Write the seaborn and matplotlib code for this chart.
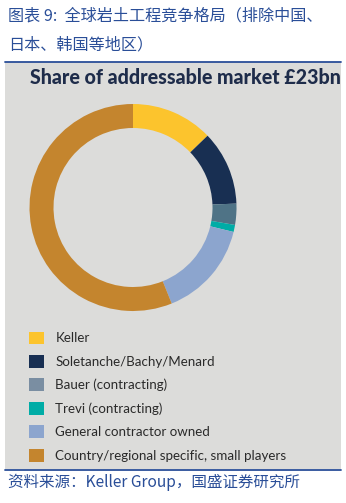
import matplotlib
matplotlib.use("Agg")
import matplotlib.pyplot as plt
import seaborn as sns
from matplotlib.patches import Rectangle, Patch
from matplotlib.lines import Line2D

# ---- data ----
categories = ["Keller", "Soletanche/Bachy/Menard", "Bauer (contracting)",
              "Trevi (contracting)", "General contractor owned",
              "Country/regional specific, small players"]
shares = [12.8, 11.6, 3.3, 1.1, 15.1, 56.1]
wedge_colors = ["#FCC42D", "#182F52", "#4F7386", "#00ACA6", "#8CA5CE", "#C4852E"]
legend_colors = ["#FCC42D", "#182F52", "#7A8EA2", "#00ACA6", "#8CA5CE", "#C4852E"]
title_cn_1 = "图表 9:  全球岩土工程竞争格局（排除中国、"
title_cn_2 = "日本、韩国等地区）"
chart_title = "Share of addressable market £23bn"
source_cn = "资料来源：Keller Group，国盛证券研究所"

sns.set_style("white")
plt.rcParams['font.family'] = ['DejaVu Sans']

W, H = 346, 503
fig = plt.figure(figsize=(W / 100, H / 100), dpi=100)
fig.patch.set_facecolor("white")

def fx(px): return px / W
def fy(py): return 1 - py / H

bg = "#DCDCDA"
blue = "#2A4E98"
# grey panel (behind everything)
fig.patches.append(Rectangle((fx(5), fy(469)), fx(341) - fx(5), fy(62) - fy(469),
                             transform=fig.transFigure, facecolor=bg, edgecolor="none",
                             zorder=-5))
fig.lines.append(Line2D([fx(5), fx(341)], [fy(61.5), fy(61.5)], transform=fig.transFigure,
                        color=blue, lw=1.3))
fig.lines.append(Line2D([fx(5), fx(341)], [fy(469.5), fy(469.5)], transform=fig.transFigure,
                        color=blue, lw=1.3))

cjk = ['Noto Sans CJK SC', 'DejaVu Sans']
fig.text(fx(8), fy(16), title_cn_1, family=cjk, fontsize=11.6, color=blue, style='italic',
         va='center', ha='left')
fig.text(fx(8), fy(45), title_cn_2, family=cjk, fontsize=11.6, color=blue, style='italic',
         va='center', ha='left')
fig.text(fx(8), fy(482), source_cn, family=cjk, fontsize=11.2, color=blue, style='italic',
         va='center', ha='left')

fig.text(fx(30), fy(77.5), chart_title, family=['Lato', 'DejaVu Sans'], fontsize=14.1,
         fontweight='black', color="#1E2C4A", va='center', ha='left')

# donut
cx, cy, r = 133, 207.5, 103.5
ax = fig.add_axes([fx(cx - r), fy(cy + r), 2 * r / W, 2 * r / H])
ax.set_facecolor("none")
pal = sns.color_palette(wedge_colors)
wedges, _ = ax.pie(shares, colors=pal, startangle=90, counterclock=False, radius=1,
                   wedgeprops=dict(width=24 / r, edgecolor='none', linewidth=0))
ax.set_xlim(-1, 1)
ax.set_ylim(-1, 1)
ax.set_aspect('equal')
ax.axis('off')

# legend
handles = [Patch(facecolor=c, edgecolor='none') for c in sns.color_palette(legend_colors)]
fs = 9.6
fpx = fs * 100 / 72
leg = fig.legend(handles, categories, loc='upper left',
                 bbox_to_anchor=(fx(29.3), fy(331.5)), bbox_transform=fig.transFigure,
                 frameon=False, borderpad=0, borderaxespad=0,
                 handlelength=14.5 / fpx, handleheight=14.5 / fpx,
                 handletextpad=11.5 / fpx, labelspacing=(23 - 12.4) / fpx,
                 prop={'family': ['Lato', 'DejaVu Sans'], 'size': fs})
for txt in leg.get_texts():
    txt.set_color("#2A2A2A")

fig.savefig("out.png", dpi=100, facecolor="white")
